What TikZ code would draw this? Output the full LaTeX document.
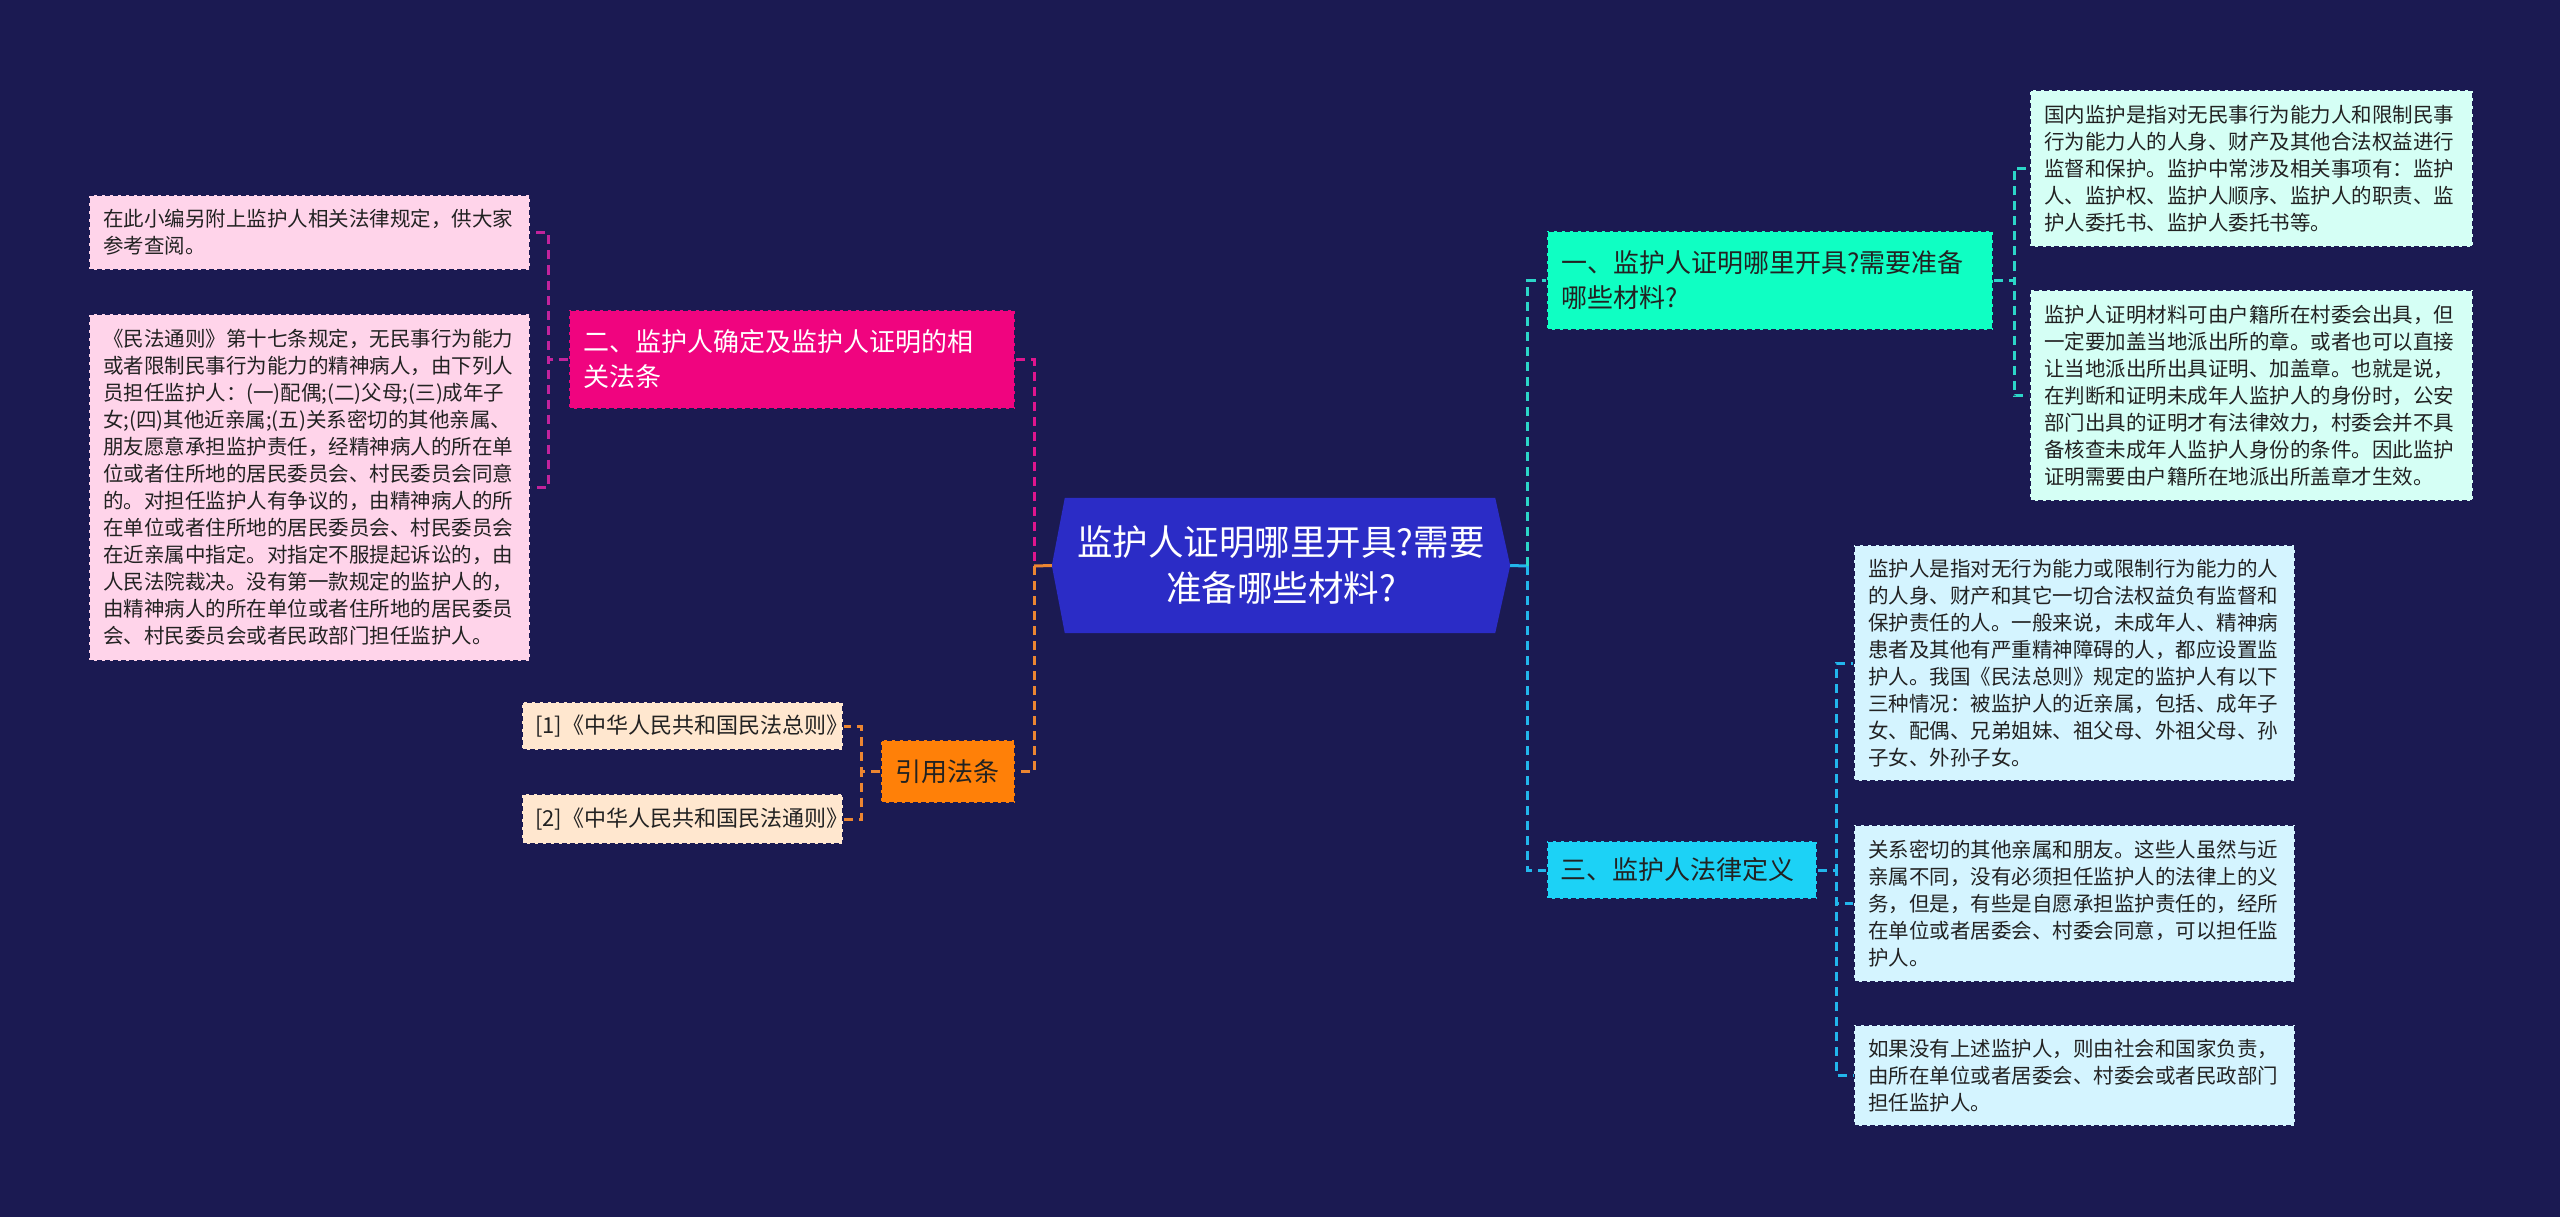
\documentclass[tikz,border=0pt]{standalone}
\usepackage{fontspec}
\setmainfont{Noto Sans CJK SC}
\usetikzlibrary{backgrounds}
\definecolor{bgc}{HTML}{1B1A52}
\definecolor{rootc}{HTML}{2B2CC6}
\definecolor{txt}{HTML}{222222}
\definecolor{magc}{HTML}{F0047F}
\definecolor{magline}{HTML}{E0158E}
\definecolor{pinkline}{HTML}{C2239C}
\definecolor{pinkfill}{HTML}{FFD4EA}
\definecolor{orc}{HTML}{FF8008}
\definecolor{orline}{HTML}{EC8632}
\definecolor{peach}{HTML}{FFE7CF}
\definecolor{aquac}{HTML}{0FFFC3}
\definecolor{aqualine}{HTML}{2CD6C8}
\definecolor{aquafill}{HTML}{D5FFF5}
\definecolor{skyc}{HTML}{1CD2F6}
\definecolor{skyline}{HTML}{22B6EC}
\definecolor{skyfill}{HTML}{D4F4FF}
\tikzset{
  box/.style={rectangle, anchor=north west, inner xsep=14pt, inner ysep=0pt,
    align=left, draw=bgc, line width=2pt, dash pattern=on 5pt off 3pt, text=txt},
  leaf/.style={box, font=\fontsize{20.5pt}{27pt}\selectfont},
  branch/.style={box, font=\fontsize{26pt}{35pt}\selectfont},
  conn/.style={line width=3pt, dash pattern=on 9pt off 6pt},
  stub/.style={line width=3pt},
}
\begin{document}
\begin{tikzpicture}[x=1pt,y=-1pt]
\useasboundingbox (0,0) rectangle (2560,1217);

% root
\node[font=\fontsize{35.5pt}{46pt}\selectfont, text=white, align=center,
  minimum width=458pt, minimum height=135pt, inner sep=0pt] (root) at (1281,565.5)
  {监护人证明哪里开具?需要\\准备哪些材料?};

% left side
\node[branch, fill=magc, text=white, text width=418pt, minimum height=99pt] (mag) at (568,309)
  {二、监护人确定及监护人证明的相\\关法条};
\node[leaf, fill=pinkfill, text width=413pt, minimum height=75pt] (p1) at (88,194)
  {在此小编另附上监护人相关法律规定，供大家\\参考查阅。};
\node[leaf, fill=pinkfill, text width=413pt, minimum height=347pt] (p2) at (88,313)
  {《民法通则》第十七条规定，无民事行为能力\\
   或者限制民事行为能力的精神病人，由下列人\\
   员担任监护人：(一)配偶;(二)父母;(三)成年子\\
   女;(四)其他近亲属;(五)关系密切的其他亲属、\\
   朋友愿意承担监护责任，经精神病人的所在单\\
   位或者住所地的居民委员会、村民委员会同意\\
   的。对担任监护人有争议的，由精神病人的所\\
   在单位或者住所地的居民委员会、村民委员会\\
   在近亲属中指定。对指定不服提起诉讼的，由\\
   人民法院裁决。没有第一款规定的监护人的，\\
   由精神病人的所在单位或者住所地的居民委员\\
   会、村民委员会或者民政部门担任监护人。};
\node[branch, fill=orc, text width=106pt, minimum height=63pt] (yin) at (880,739)
  {引用法条};
\node[box, font=\fontsize{22pt}{28pt}\selectfont, fill=peach, inner xsep=13pt, text width=295pt, minimum height=48pt] (r1) at (521,701)
  {[1]《中华人民共和国民法总则》};
\node[box, font=\fontsize{22pt}{28pt}\selectfont, fill=peach, inner xsep=13pt, text width=295pt, minimum height=50pt] (r2) at (521,793)
  {[2]《中华人民共和国民法通则》};

% right side
\node[branch, fill=aquac, text width=418pt, minimum height=99pt] (g1) at (1546,230)
  {一、监护人证明哪里开具?需要准备\\哪些材料?};
\node[branch, fill=skyc, inner xsep=13pt, text width=244pt, minimum height=58pt] (s3) at (1546,840)
  {三、监护人法律定义};
\node[leaf, fill=aquafill, text width=415pt, minimum height=157pt] (A) at (2029,89)
  {国内监护是指对无民事行为能力人和限制民事\\
   行为能力人的人身、财产及其他合法权益进行\\
   监督和保护。监护中常涉及相关事项有：监护\\
   人、监护权、监护人顺序、监护人的职责、监\\
   护人委托书、监护人委托书等。};
\node[leaf, fill=aquafill, text width=415pt, minimum height=211pt] (B) at (2029,289)
  {监护人证明材料可由户籍所在村委会出具，但\\
   一定要加盖当地派出所的章。或者也可以直接\\
   让当地派出所出具证明、加盖章。也就是说，\\
   在判断和证明未成年人监护人的身份时，公安\\
   部门出具的证明才有法律效力，村委会并不具\\
   备核查未成年人监护人身份的条件。因此监护\\
   证明需要由户籍所在地派出所盖章才生效。};
\node[leaf, fill=skyfill, text width=413pt, minimum height=236pt] (C) at (1853,544)
  {监护人是指对无行为能力或限制行为能力的人\\
   的人身、财产和其它一切合法权益负有监督和\\
   保护责任的人。一般来说，未成年人、精神病\\
   患者及其他有严重精神障碍的人，都应设置监\\
   护人。我国《民法总则》规定的监护人有以下\\
   三种情况：被监护人的近亲属，包括、成年子\\
   女、配偶、兄弟姐妹、祖父母、外祖父母、孙\\
   子女、外孙子女。};
\node[leaf, fill=skyfill, text width=413pt, minimum height=157pt] (D) at (1853,824)
  {关系密切的其他亲属和朋友。这些人虽然与近\\
   亲属不同，没有必须担任监护人的法律上的义\\
   务，但是，有些是自愿承担监护责任的，经所\\
   在单位或者居委会、村委会同意，可以担任监\\
   护人。};
\node[leaf, fill=skyfill, text width=413pt, minimum height=101pt] (E) at (1853,1024)
  {如果没有上述监护人，则由社会和国家负责，\\
   由所在单位或者居委会、村委会或者民政部门\\
   担任监护人。};

% junctions
\coordinate (jL) at (1034,566);
\coordinate (jR) at (1527,566);

% connectors left
\draw[conn, magline] (mag.east) -| (jL);
\draw[stub, orline] (root.west) -- (jL);
\draw[conn, orline] (jL) |- (yin.east);
\draw[conn, pinkline] (mag.west) -- ++(-20,0) |- (p1.east);
\draw[conn, pinkline] (mag.west) -- ++(-20,0) |- (p2.east);
\draw[conn, orline] (yin.west) -- ++(-19,0) |- (r1.east);
\draw[conn, orline] (yin.west) -- ++(-19,0) |- (r2.east);

% connectors right
\draw[stub, skyline] (root.east) -- (jR);
\draw[conn, aqualine] (jR) |- (g1.west);
\draw[conn, skyline] (jR) |- (s3.west);
\draw[conn, aqualine] (g1.east) -- ++(20,0) |- (A.west);
\draw[conn, aqualine] (g1.east) -- ++(20,0) |- (B.west);
\draw[conn, skyline] (s3.east) -- ++(18,0) |- (C.west);
\draw[conn, skyline] (s3.east) -- ++(18,0) |- (D.west);
\draw[conn, skyline] (s3.east) -- ++(18,0) |- (E.west);

\begin{scope}[on background layer]
  \fill[bgc] (0,0) rectangle (2560,1217);
  \fill[rootc] (root.west) -- ([xshift=13pt]root.north west) -- ([xshift=-15pt]root.north east)
    -- (root.east) -- ([xshift=-15pt]root.south east) -- ([xshift=13pt]root.south west) -- cycle;
\end{scope}
\end{tikzpicture}
\end{document}
